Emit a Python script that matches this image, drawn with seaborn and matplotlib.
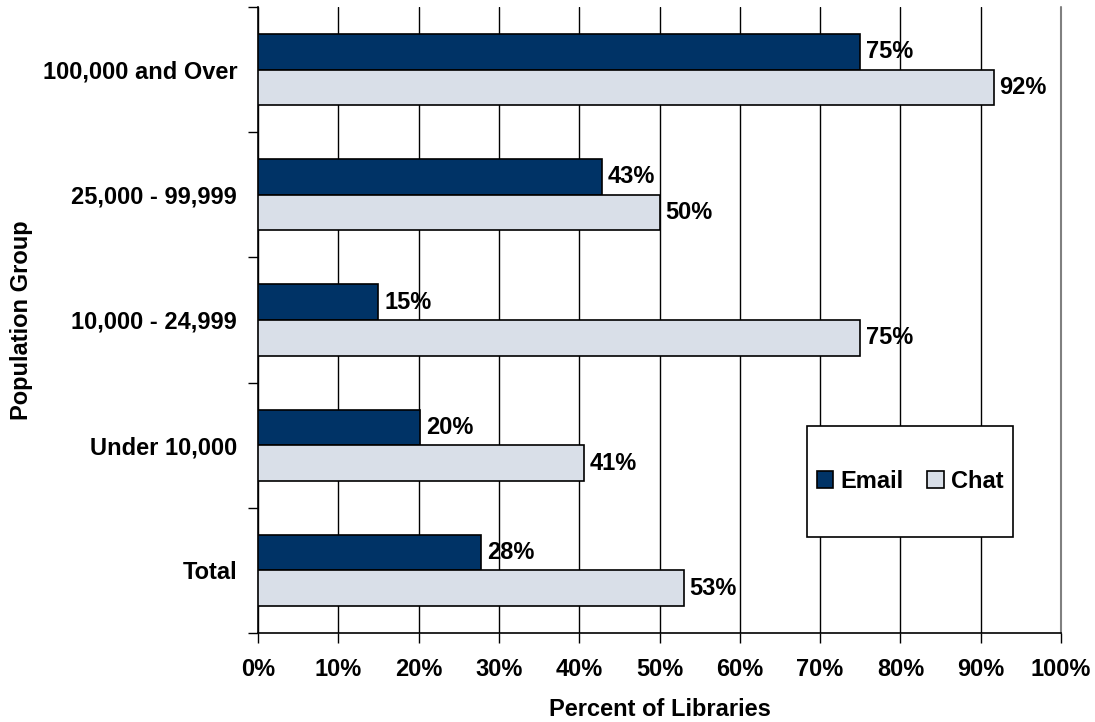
import matplotlib
matplotlib.use("Agg")
import matplotlib.pyplot as plt
from matplotlib.patches import Rectangle
import seaborn as sns
import pandas as pd
import numpy as np

# data
groups = ["100,000 and Over", "25,000 - 99,999", "10,000 - 24,999", "Under 10,000", "Total"]
email = [75.0, 42.9, 15.0, 20.2, 27.8]
chat = [91.6, 50.0, 75.0, 40.6, 53.0]
series = ["Email", "Chat"]
colors = ["#003366", "#D9DFE8"]

df = pd.DataFrame({"Group": groups * 2,
                   "Value": email + chat,
                   "Series": ["Email"] * len(groups) + ["Chat"] * len(groups)})

sns.set_theme(style="white")
plt.rcParams["font.family"] = ["Liberation Sans", "DejaVu Sans"]
plt.rcParams["font.weight"] = "bold"
plt.rcParams["text.color"] = "black"
plt.rcParams["axes.labelcolor"] = "black"
plt.rcParams["xtick.color"] = "black"
plt.rcParams["ytick.color"] = "black"

fs = 17

fig = plt.figure(figsize=(10.95, 7.22), dpi=100)
ax = fig.add_axes([258 / 1095, 89 / 722, 803 / 1095, 626 / 722])

sns.barplot(data=df, x="Value", y="Group", hue="Series", order=groups,
            hue_order=series, palette=colors, orient="h", width=0.57,
            edgecolor="black", linewidth=1.2, saturation=1, ax=ax, zorder=3)

# value labels
for cont in ax.containers:
    ax.bar_label(cont, labels=[f"{round(v.get_width()):.0f}%" for v in cont],
                 padding=4, fontsize=fs, fontweight="bold", color="black")

ax.set_xlim(0, 100)
ax.set_ylim(len(groups) - 0.5, -0.5)
ax.set_xticks(np.arange(0, 101, 10))
ax.set_xticklabels([f"{t}%" for t in range(0, 101, 10)], fontsize=fs, fontweight="bold")
ax.tick_params(axis="x", direction="out", length=7, width=1, color="black", pad=11, bottom=True)

ax.set_yticks(range(len(groups)))
ax.set_yticklabels(groups, fontsize=fs, fontweight="bold")
ax.tick_params(axis="y", which="major", length=0, pad=15)
ax.set_yticks(np.arange(-0.5, len(groups), 1), minor=True)
ax.tick_params(axis="y", which="minor", direction="out", length=7, width=1, color="black", left=True)

ax.xaxis.grid(True, color="black", linewidth=1, zorder=0)
ax.set_axisbelow(True)
# last gridline sits on the axes edge; keep it visible (grey as in the original)
gl = ax.get_xgridlines()
gl[-1].set_clip_on(False)
gl[-1].set_color("#808080")
gl[-1].set_linewidth(1.5)

for s in ["top", "right"]:
    ax.spines[s].set_visible(False)
for s in ["left", "bottom"]:
    ax.spines[s].set_color("black")
    ax.spines[s].set_linewidth(1.2)

ax.set_xlabel("Percent of Libraries", fontsize=fs, fontweight="bold", labelpad=12)
ax.set_ylabel("Population Group", fontsize=fs, fontweight="bold", labelpad=7)

# legend box spans x 807-1013, y 426-537 px in the figure
bx, by = (807 - 258) / 803, (633 - 537) / 626
bw, bh = 206 / 803, 111 / 626
ax.add_patch(Rectangle((bx, by), bw, bh, transform=ax.transAxes, facecolor="white",
                       edgecolor="black", linewidth=1.2, zorder=5))
leg = ax.legend(loc="center", bbox_to_anchor=(bx + bw / 2, by + bh / 2),
                ncol=2, frameon=False, fontsize=fs,
                handlelength=0.7, handleheight=0.7, handletextpad=0.3,
                columnspacing=1.0, borderpad=0, borderaxespad=0)
leg.set_zorder(6)
for t in leg.get_texts():
    t.set_fontweight("bold")
    t.set_color("black")

fig.savefig("out.png", dpi=100)
